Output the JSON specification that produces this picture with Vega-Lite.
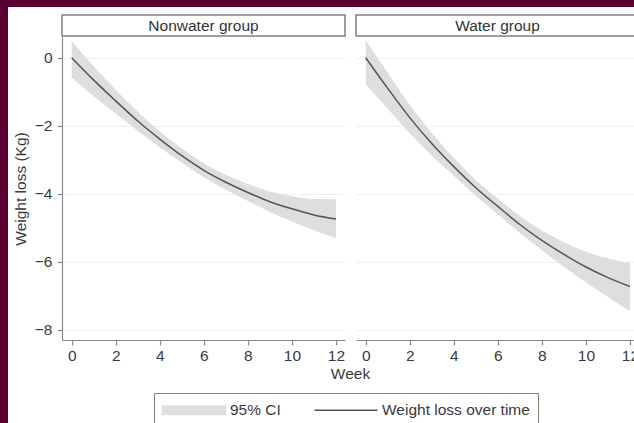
{
  "$schema": "https://vega.github.io/schema/vega-lite/v6.json",
  "background": "white",
  "padding": 0,
  "autosize": {"type": "pad"},
  "config": {
    "font": "Liberation Sans",
    "view": {"stroke": null},
    "axis": {
      "labelFont": "Liberation Sans",
      "labelFontSize": 15.5,
      "labelColor": "#3a3a3a",
      "titleFont": "Liberation Sans",
      "titleFontSize": 15.5,
      "titleFontWeight": "normal",
      "titleColor": "#3a3a3a",
      "domainColor": "#8a8a8a",
      "domainWidth": 1.2,
      "tickColor": "#8a8a8a",
      "tickWidth": 1.2,
      "tickSize": 5,
      "gridColor": "#efefef",
      "gridWidth": 1
    }
  },
  "datasets": {
    "fit": [
      {"group": "Nonwater group", "week": 0, "mean": 0.0, "hi": 0.48, "lo": -0.58},
      {"group": "Nonwater group", "week": 1, "mean": -0.66, "hi": -0.26, "lo": -1.13},
      {"group": "Nonwater group", "week": 2, "mean": -1.27, "hi": -0.94, "lo": -1.64},
      {"group": "Nonwater group", "week": 3, "mean": -1.86, "hi": -1.59, "lo": -2.15},
      {"group": "Nonwater group", "week": 4, "mean": -2.39, "hi": -2.16, "lo": -2.63},
      {"group": "Nonwater group", "week": 5, "mean": -2.88, "hi": -2.67, "lo": -3.09},
      {"group": "Nonwater group", "week": 6, "mean": -3.31, "hi": -3.10, "lo": -3.52},
      {"group": "Nonwater group", "week": 7, "mean": -3.66, "hi": -3.44, "lo": -3.88},
      {"group": "Nonwater group", "week": 8, "mean": -3.96, "hi": -3.71, "lo": -4.21},
      {"group": "Nonwater group", "week": 9, "mean": -4.23, "hi": -3.93, "lo": -4.53},
      {"group": "Nonwater group", "week": 10, "mean": -4.44, "hi": -4.07, "lo": -4.81},
      {"group": "Nonwater group", "week": 11, "mean": -4.62, "hi": -4.15, "lo": -5.07},
      {"group": "Nonwater group", "week": 12, "mean": -4.74, "hi": -4.16, "lo": -5.30},
      {"group": "Water group", "week": 0, "mean": 0.0, "hi": 0.52, "lo": -0.78},
      {"group": "Water group", "week": 1, "mean": -0.90, "hi": -0.44, "lo": -1.50},
      {"group": "Water group", "week": 2, "mean": -1.76, "hi": -1.38, "lo": -2.22},
      {"group": "Water group", "week": 3, "mean": -2.52, "hi": -2.21, "lo": -2.87},
      {"group": "Water group", "week": 4, "mean": -3.20, "hi": -2.94, "lo": -3.47},
      {"group": "Water group", "week": 5, "mean": -3.82, "hi": -3.59, "lo": -4.06},
      {"group": "Water group", "week": 6, "mean": -4.37, "hi": -4.14, "lo": -4.60},
      {"group": "Water group", "week": 7, "mean": -4.90, "hi": -4.65, "lo": -5.15},
      {"group": "Water group", "week": 8, "mean": -5.37, "hi": -5.08, "lo": -5.66},
      {"group": "Water group", "week": 9, "mean": -5.78, "hi": -5.42, "lo": -6.14},
      {"group": "Water group", "week": 10, "mean": -6.15, "hi": -5.70, "lo": -6.60},
      {"group": "Water group", "week": 11, "mean": -6.46, "hi": -5.90, "lo": -7.03},
      {"group": "Water group", "week": 12, "mean": -6.72, "hi": -6.03, "lo": -7.45}
    ]
  },
  "spacing": 0,
  "hconcat": [
    {
      "width": 8,
      "height": 423,
      "view": {"fill": "#5a0030", "stroke": null},
      "data": {"values": []},
      "mark": "rect",
      "encoding": {}
    },
    {
      "spacing": 7,
      "vconcat": [
        {
          "width": 626,
          "height": 7,
          "view": {"fill": "#5a0030", "stroke": null},
          "data": {"values": []},
          "mark": "rect",
          "encoding": {}
        },
        {
          "spacing": 0,
          "hconcat": [
            {
              "width": 48,
              "height": 325,
              "data": {"name": "fit"},
              "mark": {"type": "point", "opacity": 0},
              "encoding": {
                "y": {
                  "field": "mean",
                  "type": "quantitative",
                  "scale": {"domain": [-8.294, 1.254], "nice": false, "zero": false},
                  "axis": {
                    "orient": "left",
                    "offset": -48,
                    "values": [-8, -6, -4, -2, 0],
                    "ticks": false,
                    "domain": false,
                    "grid": false,
                    "labelPadding": 4,
                    "title": "Weight loss (Kg)",
                    "titleY": 173.5,
                    "titlePadding": 6
                  }
                }
              }
            },
            {
              "spacing": 1,
              "vconcat": [
                {
                  "spacing": 9,
                  "hconcat": [
                    {
                      "spacing": 0,
                      "vconcat": [
                        {
                          "width": 283,
                          "height": 21,
                          "view": {"stroke": "#808080", "strokeWidth": 1.5, "fill": "white"},
                          "data": {"values": [{"label": "Nonwater group"}]},
                          "mark": {"type": "text", "fontSize": 15.5, "color": "#333333", "font": "Liberation Sans"},
                          "encoding": {"text": {"field": "label"}}
                        },
                        {
                          "width": 283,
                          "height": 303,
                          "data": {"name": "fit"},
                          "transform": [{"filter": "datum.group === 'Nonwater group'"}],
                          "encoding": {
                            "x": {
                              "field": "week",
                              "type": "quantitative",
                              "scale": {"domain": [-0.44, 12.41], "nice": false, "zero": false},
                              "axis": {
                                "values": [0, 2, 4, 6, 8, 10, 12],
                                "grid": false,
                                "labelPadding": 3,
                                "title": null
                              }
                            }
                          },
                          "layer": [
                            {
                              "mark": {"type": "area", "interpolate": "monotone"},
                              "encoding": {
                                "y": {
                                  "field": "lo",
                                  "type": "quantitative",
                                  "scale": {"domain": [-8.294, 0.608], "nice": false, "zero": false},
                                  "axis": {
                                    "values": [-8, -6, -4, -2, 0],
                                    "labels": false,
                                    "title": null,
                                    "grid": true
                                  }
                                },
                                "y2": {"field": "hi"},
                                "color": {
                                  "datum": "95% CI",
                                  "scale": {
                                    "domain": ["95% CI", "Weight loss over time"],
                                    "range": ["#dedede", "#555555"]
                                  },
                                  "legend": {
                                    "title": null,
                                    "orient": "none",
                                    "legendX": 154,
                                    "legendY": 393,
                                    "direction": "horizontal",
                                    "padding": 8,
                                    "strokeColor": "#808080",
                                    "fillColor": "white",
                                    "symbolSize": 256,
                                    "symbolOffset": 23,
                                    "labelOffset": 27,
                                    "columnPadding": 30,
                                    "labelFont": "Liberation Sans",
                                    "labelFontSize": 15.5,
                                    "labelColor": "#3a3a3a",
                                    "encode": {
                                      "symbols": {
                                        "update": {
                                          "shape": {"signal": "datum.value === '95% CI' ? 'M-3.94,-0.53H3.94V0.53H-3.94Z' : 'M-3.94,0H3.94'"},
                                          "fill": {"signal": "datum.value === '95% CI' ? '#dedede' : 'transparent'"},
                                          "stroke": {"signal": "datum.value === '95% CI' ? 'transparent' : '#555555'"},
                                          "strokeWidth": {"value": 1.5},
                                          "opacity": {"value": 1}
                                        }
                                      }
                                    }
                                  }
                                }
                              }
                            },
                            {
                              "mark": {"type": "line", "interpolate": "monotone", "strokeWidth": 1.5},
                              "encoding": {
                                "y": {"field": "mean", "type": "quantitative"},
                                "color": {"datum": "Weight loss over time"}
                              }
                            }
                          ]
                        }
                      ]
                    },
                    {
                      "spacing": 0,
                      "vconcat": [
                        {
                          "width": 283,
                          "height": 21,
                          "view": {"stroke": "#808080", "strokeWidth": 1.5, "fill": "white"},
                          "data": {"values": [{"label": "Water group"}]},
                          "mark": {"type": "text", "fontSize": 15.5, "color": "#333333", "font": "Liberation Sans"},
                          "encoding": {"text": {"field": "label"}}
                        },
                        {
                          "width": 283,
                          "height": 303,
                          "data": {"name": "fit"},
                          "transform": [{"filter": "datum.group === 'Water group'"}],
                          "encoding": {
                            "x": {
                              "field": "week",
                              "type": "quantitative",
                              "scale": {"domain": [-0.44, 12.41], "nice": false, "zero": false},
                              "axis": {
                                "values": [0, 2, 4, 6, 8, 10, 12],
                                "grid": false,
                                "labelPadding": 3,
                                "title": null
                              }
                            }
                          },
                          "layer": [
                            {
                              "mark": {"type": "area", "interpolate": "monotone"},
                              "encoding": {
                                "y": {
                                  "field": "lo",
                                  "type": "quantitative",
                                  "scale": {"domain": [-8.294, 0.608], "nice": false, "zero": false},
                                  "axis": {
                                    "values": [-8, -6, -4, -2, 0],
                                    "labels": false,
                                    "ticks": false,
                                    "domain": false,
                                    "title": null,
                                    "grid": true
                                  }
                                },
                                "y2": {"field": "hi"},
                                "color": {"datum": "95% CI"}
                              }
                            },
                            {
                              "mark": {"type": "line", "interpolate": "monotone", "strokeWidth": 1.5},
                              "encoding": {
                                "y": {"field": "mean", "type": "quantitative"},
                                "color": {"datum": "Weight loss over time"}
                              }
                            }
                          ]
                        }
                      ]
                    }
                  ]
                },
                {
                  "width": 577,
                  "height": 18,
                  "data": {"values": [{"label": "Week"}]},
                  "mark": {"type": "text", "fontSize": 15.5, "color": "#3a3a3a", "font": "Liberation Sans"},
                  "encoding": {"text": {"field": "label"}}
                }
              ]
            }
          ]
        }
      ]
    }
  ]
}
